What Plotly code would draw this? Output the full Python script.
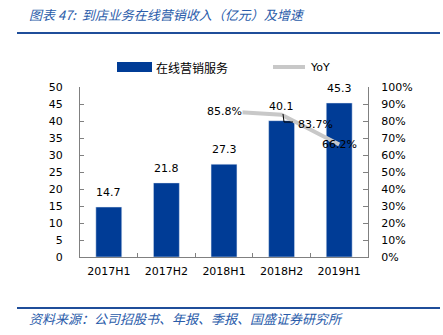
import plotly.graph_objects as go

categories = ["2017H1", "2017H2", "2018H1", "2018H2", "2019H1"]
revenue = [14.7, 21.8, 27.3, 40.1, 45.3]
yoy_cats = ["2018H1", "2018H2", "2019H1"]
yoy = [0.858, 0.837, 0.662]
yoy_labels = ["85.8%", "83.7%", "66.2%"]

BAR = "#003c96"
BLUE = "#2a5caa"
GRAY = "#c8c8c8"
FONT = "DejaVu Sans"
CJK = "Noto Sans CJK SC"

L, R, T, B = 80, 75, 87, 78
W, H = 443, 335
pw, ph = W - L - R, H - T - B
def px(x): return (x - L) / pw
def py(y): return (H - B - y) / ph

fig = go.Figure()
fig.add_trace(go.Bar(
    x=categories, y=revenue, marker_color=BAR, width=0.45,
    cliponaxis=False, showlegend=False))
fig.add_trace(go.Scatter(
    x=yoy_cats, y=yoy, yaxis="y2", mode="lines",
    line=dict(color=GRAY, width=4), showlegend=False))

anns = []
for c, v in zip(categories, revenue):
    anns.append(dict(x=c, y=v, xref="x", yref="y", text=f"{v:.1f}", showarrow=False,
                     yanchor="bottom", yshift=6,
                     font=dict(family=FONT, size=11, color="#000")))
offsets = [(0, 0, True), (34, 10, False), (0, 0, False)]
for c, v, t, (dx, dy, bg) in zip(yoy_cats, yoy, yoy_labels, offsets):
    anns.append(dict(x=c, y=v, xref="x", yref="y2", text=t, showarrow=False,
                     xshift=dx, yshift=-dy, bgcolor="white" if bg else None,
                     font=dict(family=FONT, size=11, color="#000"), borderpad=0))

# title
anns.append(dict(x=px(27), y=py(15), xref="paper", yref="paper", xanchor="left", yanchor="middle",
                 text="图表 47:  到店业务在线营销收入（亿元）及增速", showarrow=False,
                 font=dict(family=CJK, size=13, color=BLUE, style="italic")))
# source
anns.append(dict(x=px(27), y=py(318), xref="paper", yref="paper", xanchor="left", yanchor="middle",
                 text="资料来源：公司招股书、年报、季报、国盛证券研究所", showarrow=False,
                 font=dict(family=CJK, size=13, color=BLUE, style="italic")))
# legend texts
anns.append(dict(x=px(154), y=py(67), xref="paper", yref="paper", xanchor="left", yanchor="middle",
                 text="在线营销服务", showarrow=False, font=dict(family=CJK, size=12, color="#000")))
anns.append(dict(x=px(308), y=py(67), xref="paper", yref="paper", xanchor="left", yanchor="middle",
                 text="YoY", showarrow=False, font=dict(family=FONT, size=11, color="#000")))

shapes = [
    dict(type="line", xref="paper", yref="paper", x0=px(17), x1=px(440), y0=py(33), y1=py(33),
         line=dict(color="#1f4e9a", width=2)),
    dict(type="line", xref="paper", yref="paper", x0=px(17), x1=px(440), y0=py(308), y1=py(308),
         line=dict(color="#1f4e9a", width=2)),
    dict(type="rect", xref="paper", yref="paper", x0=px(117), x1=px(152), y0=py(72), y1=py(62),
         fillcolor=BAR, line=dict(width=0)),
    dict(type="line", xref="paper", yref="paper", x0=px(273), x1=px(305), y0=py(67), y1=py(67),
         line=dict(color=GRAY, width=4)),
    # leader line for 83.7%
    dict(type="path", xref="paper", yref="paper",
         path=f"M {px(283)},{py(114)} L {px(284)},{py(122)} L {px(293)},{py(122)}",
         line=dict(color="#000", width=1)),
]

fig.update_layout(
    width=W, height=H, margin=dict(l=L, r=R, t=T, b=B),
    paper_bgcolor="white", plot_bgcolor="white",
    font=dict(family=FONT, size=11, color="#000"),
    xaxis=dict(showline=True, linecolor="#808080", linewidth=1, ticks="inside", ticklen=4,
               tickcolor="#808080", tickson="boundaries", tickfont=dict(size=11), showgrid=False,
               ticklabelstandoff=4),
    yaxis=dict(range=[0, 50], dtick=5, showline=True, linecolor="#808080", ticks="inside",
               ticklen=4, tickcolor="#808080", showgrid=False, zeroline=False, tickfont=dict(size=11),
               ticklabelstandoff=14),
    yaxis2=dict(range=[0, 1], dtick=0.1, tickformat=".0%", overlaying="y", side="right",
                showline=True, linecolor="#808080", ticks="inside", ticklen=5, tickcolor="#808080",
                showgrid=False, zeroline=False, tickfont=dict(size=11), ticklabelstandoff=10),
    annotations=anns, shapes=shapes,
)
fig.write_html("out.html")
